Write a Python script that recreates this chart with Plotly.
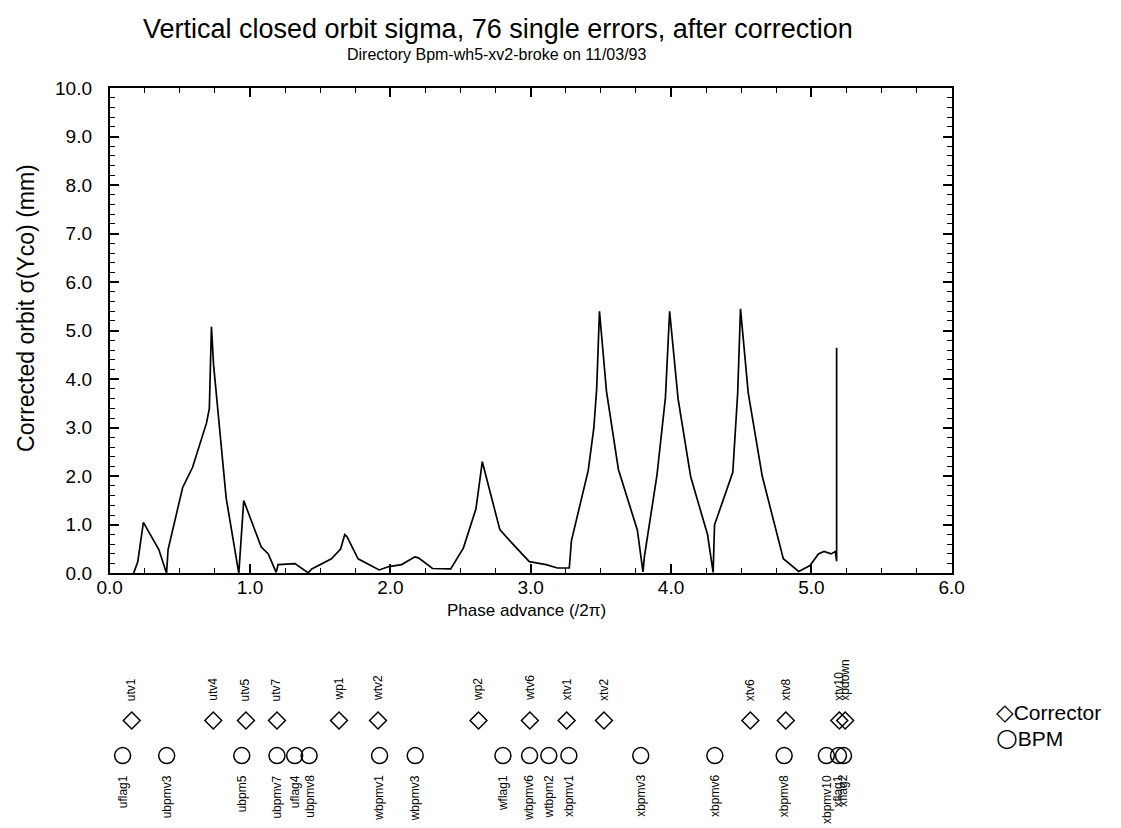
import plotly.graph_objects as go

# Corrected vertical orbit sigma along the ring (phase advance in units of 2*pi)
phase = [0.17, 0.20, 0.24, 0.35, 0.405, 0.416, 0.52, 0.59, 0.69, 0.71, 0.725, 0.74,
         0.83, 0.92, 0.955, 1.08, 1.13, 1.186, 1.20, 1.32, 1.415, 1.44, 1.58, 1.645,
         1.675, 1.69, 1.77, 1.92, 1.99, 2.08, 2.175, 2.20, 2.30, 2.43, 2.52, 2.61,
         2.655, 2.78, 2.88, 2.99, 3.07, 3.11, 3.19, 3.275, 3.29, 3.325, 3.41, 3.45,
         3.47, 3.49, 3.53, 3.54, 3.625, 3.76, 3.80, 3.81, 3.90, 3.96, 3.99, 4.04,
         4.05, 4.14, 4.26, 4.30, 4.31, 4.44, 4.475, 4.495, 4.55, 4.65, 4.76, 4.80,
         4.91, 4.99, 5.05, 5.09, 5.14, 5.17, 5.18, 5.18]
sigma_mm = [0.0, 0.24, 1.05, 0.49, 0.0, 0.49, 1.77, 2.18, 3.10, 3.40, 5.08, 4.30,
            1.55, 0.0, 1.50, 0.54, 0.40, 0.02, 0.18, 0.20, 0.01, 0.09, 0.30, 0.50,
            0.80, 0.76, 0.30, 0.07, 0.14, 0.18, 0.34, 0.32, 0.10, 0.09, 0.52, 1.33,
            2.30, 0.90, 0.58, 0.24, 0.20, 0.18, 0.11, 0.11, 0.67, 1.11, 2.12, 3.00,
            3.80, 5.40, 3.95, 3.75, 2.14, 0.89, 0.03, 0.34, 2.03, 3.62, 5.40, 3.85,
            3.60, 1.99, 0.80, 0.02, 1.00, 2.08, 3.72, 5.45, 3.72, 2.00, 0.78, 0.30,
            0.04, 0.16, 0.40, 0.45, 0.40, 0.45, 0.25, 4.65]

# Vertical correctors
corrector_names = ["utv1", "utv4", "utv5", "utv7", "wp1", "wtv2", "wp2", "wtv6",
                   "xtv1", "xtv2", "xtv6", "xtv8", "xtv10", "xpdown"]
corrector_phase = [0.157, 0.738, 0.971, 1.192, 1.634, 1.912, 2.628, 2.994,
                   3.256, 3.522, 4.565, 4.818, 5.199, 5.241]

# Beam position monitors
bpm_names = ["uflag1", "ubpmv3", "ubpm5", "ubpmv7", "uflag4", "ubpmv8", "wbpmv1",
             "wbpmv3", "wflag1", "wbpmv6", "wtbpm2", "xbpmv1", "xbpmv3", "xbpmv6",
             "xbpmv8", "xbpmv10", "xflag1", "xflag2"]
bpm_phase = [0.092, 0.406, 0.941, 1.192, 1.318, 1.421, 1.923, 2.177, 2.802,
             2.992, 3.129, 3.272, 3.784, 4.312, 4.806, 5.107, 5.193, 5.229]

W, H = 1121, 828
FONT = "Liberation Sans, Arial, Helvetica, sans-serif"
SYMFONT = "Liberation Sans, DejaVu Sans, sans-serif"


def px_x(p):
    return p / W


def px_y(p):
    return 1 - p / H


# Element strip occupies the bottom 207 px; rows given in pixels from the top
STRIP_H = 207.0


def strip_y(p):
    return (H - p) / STRIP_H


ROW_CORR, ROW_BPM = strip_y(729), strip_y(765)
LAB_CORR, LAB_BPM = strip_y(710), strip_y(784)

fig = go.Figure()

fig.add_trace(go.Scatter(
    x=phase, y=sigma_mm, mode="lines",
    line=dict(color="black", width=1.7),
    showlegend=False, hoverinfo="skip",
))

fig.add_trace(go.Scatter(
    x=corrector_phase, y=[ROW_CORR] * len(corrector_phase),
    xaxis="x2", yaxis="y2", mode="markers",
    marker=dict(symbol="diamond-open", size=13, color="black", line=dict(width=1.5)),
    showlegend=False, cliponaxis=False,
))
fig.add_trace(go.Scatter(
    x=bpm_phase, y=[ROW_BPM] * len(bpm_phase),
    xaxis="x2", yaxis="y2", mode="markers",
    marker=dict(symbol="circle-open", size=16, color="black", line=dict(width=1.5)),
    showlegend=False, cliponaxis=False,
))

annotations = []
for name, ph in zip(corrector_names, corrector_phase):
    annotations.append(dict(
        x=ph, y=LAB_CORR, xref="x2", yref="y2", text=name, textangle=-90,
        showarrow=False, xanchor="center", yanchor="bottom",
        font=dict(family=FONT, size=12, color="black"), borderpad=0,
    ))
for name, ph in zip(bpm_names, bpm_phase):
    annotations.append(dict(
        x=ph, y=LAB_BPM, xref="x2", yref="y2", text=name, textangle=-90,
        showarrow=False, xanchor="center", yanchor="top",
        font=dict(family=FONT, size=12, color="black"), borderpad=0,
    ))

# Titles
annotations += [
    dict(x=px_x(497), y=px_y(20), xref="paper", yref="paper",
         text="Vertical closed orbit sigma, 76 single errors, after correction",
         showarrow=False, xanchor="center", yanchor="middle",
         font=dict(family=FONT, size=27, color="black")),
    dict(x=px_x(495), y=px_y(46), xref="paper", yref="paper",
         text="Directory Bpm-wh5-xv2-broke on 11/03/93",
         showarrow=False, xanchor="center", yanchor="middle",
         font=dict(family=FONT, size=16, color="black")),
    dict(x=px_x(526), y=px_y(616), xref="paper", yref="paper",
         text="Phase advance (/2π)",
         showarrow=False, xanchor="center", yanchor="middle",
         font=dict(family=FONT, size=17, color="black")),
    dict(x=px_x(14), y=px_y(306), xref="paper", yref="paper",
         text="Corrected orbit σ(Yco) (mm)", textangle=-90,
         showarrow=False, xanchor="center", yanchor="middle",
         font=dict(family=FONT, size=23, color="black")),
    # Symbol key
    dict(x=px_x(1004), y=px_y(720), xref="paper", yref="paper",
         text="<span style='font-family:DejaVu Sans;font-size:23px'>◇</span>Corrector",
         showarrow=False, xanchor="left", yanchor="middle",
         font=dict(family=SYMFONT, size=21, color="black")),
    dict(x=px_x(1004), y=px_y(746), xref="paper", yref="paper",
         text="<span style='font-family:DejaVu Sans;font-size:25px'>○</span>BPM",
         showarrow=False, xanchor="left", yanchor="middle",
         font=dict(family=SYMFONT, size=21, color="black")),
]

x_dom = [px_x(99), px_x(961)]
axis_common = dict(
    showgrid=False, zeroline=False, showline=True, linecolor="black", linewidth=1.8,
    mirror="ticks", ticks="inside", tickcolor="black", tickwidth=1.5,
    tickfont=dict(family=FONT, size=19, color="black"), tickformat=".1f",
)

fig.update_layout(
    width=W, height=H,
    margin=dict(l=0, r=0, t=0, b=0),
    paper_bgcolor="white", plot_bgcolor="white",
    showlegend=False,
    xaxis=dict(domain=x_dom, range=[0, 6], dtick=1, ticklen=9,
               minor=dict(dtick=0.25, ticks="inside", ticklen=5, tickcolor="black", tickwidth=1.3),
               ticklabelstandoff=-4, anchor="y", **axis_common),
    yaxis=dict(domain=[px_y(578), px_y(80)], range=[0, 10], dtick=1, ticklen=9,
               minor=dict(dtick=0.2, ticks="inside", ticklen=5, tickcolor="black", tickwidth=1.3),
               ticklabelstandoff=12, anchor="x", **axis_common),
    xaxis2=dict(domain=x_dom, range=[0, 6], visible=False, anchor="y2"),
    yaxis2=dict(domain=[0, STRIP_H / H], range=[0, 1], visible=False, anchor="x2"),
    annotations=annotations,
)

fig.write_html("out.html")
